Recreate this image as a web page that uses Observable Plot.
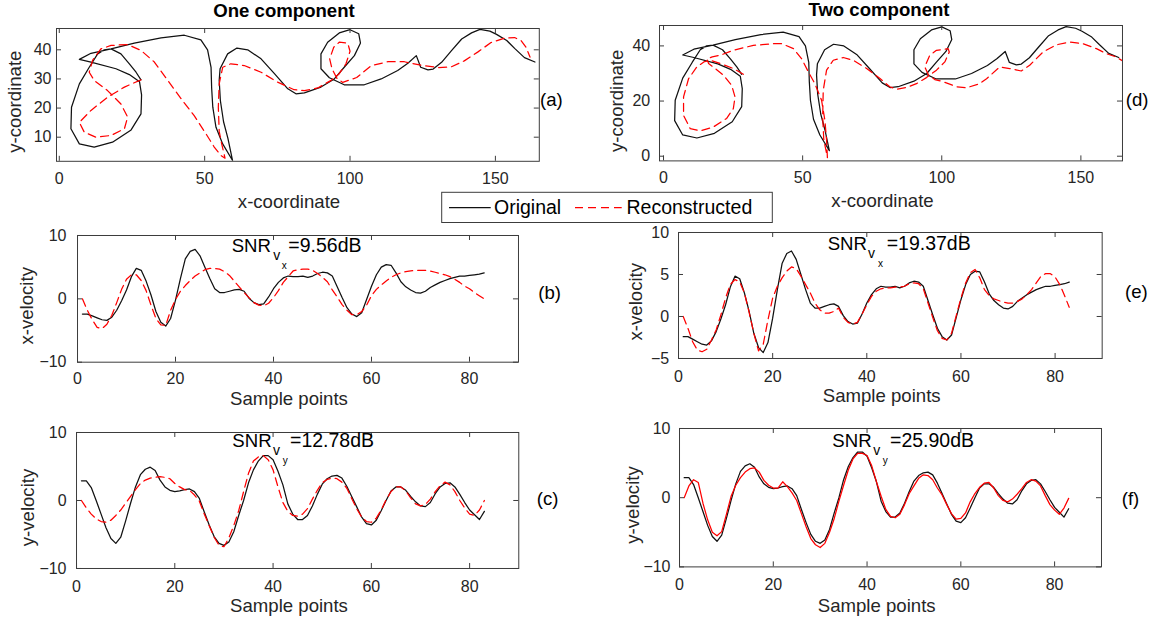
<!DOCTYPE html>
<html>
<head>
<meta charset="utf-8">
<script src="https://cdn.jsdelivr.net/npm/d3@7"></script>
<script src="https://cdn.jsdelivr.net/npm/@observablehq/plot@0.6"></script>
<style>
  html, body { margin: 0; padding: 0; background: #fff; }
  #fig { position: relative; width: 1151px; height: 623px; overflow: hidden;
         font-family: "Liberation Sans", Arial, Helvetica, sans-serif; }
  #fig svg.panel { position: absolute; }
  #overlay { position: absolute; left: 0; top: 0; pointer-events: none; }
</style>
</head>
<body>
<div id="fig"></div>
<script>
// ---------- pen trajectories (x, y coordinates) ----------
const origX = [28.1,26.4,24.1,21.2,17.8,15.5,13.2,10.3,6.9,4.2,4.0,6.9,12.0,18.3,24.7,28.1,28.3,27.6,24.1,19.5,10.9,6.9,10.9,17.8,25.8,35.0,43.0,48.7,51.0,52.2,52.4,52.8,53.9,56.2,59.6,58.0,56.5,55.4,55.0,55.3,57.9,61.1,64.8,69.4,74.0,78.6,81.4,84.3,90.0,94.6,98.0,101.5,103.6,103.0,100.0,96.3,92.3,90.0,90.0,92.9,98.0,104.9,110.7,116.4,119.9,122.8,124.3,126.8,128.6,131.5,134.9,138.4,141.8,144.7,148.1,150.4,153.9,156.7,160.0,163.6];
const origY = [29.7,32.3,35.2,38.6,40.3,40.0,38.6,34.0,28.3,20.3,12.9,7.7,6.6,8.3,12.5,18.0,24.5,29.0,31.5,33.5,35.8,36.7,38.8,40.3,42.3,44.1,45.0,43.4,40.0,34.0,27.0,20.3,13.4,7.7,2.0,9.6,15.3,22.6,29.5,33.5,38.6,40.6,40.0,36.9,31.8,26.6,24.9,25.2,27.2,30.0,34.0,38.0,42.3,45.5,46.9,45.8,42.6,38.6,33.5,30.4,28.0,28.0,30.0,32.9,35.4,38.0,34.0,33.1,33.4,35.7,39.7,43.7,45.8,47.0,46.4,45.3,43.2,40.4,37.3,35.8];

const oneX = [28.1,22.4,16.6,10.9,6.9,8.6,12.6,17.8,22.4,23.5,21.2,16.6,12.0,10.3,11.5,14.3,17.8,23.5,28.1,32.7,37.3,41.9,46.4,50.5,53.3,55.6,57.0,55.8,55.0,54.7,55.0,56.2,59.0,63.6,69.4,75.1,80.8,84.3,88.9,93.5,96.3,98.6,100.0,99.2,96.3,94.4,93.0,93.8,95.5,97.5,102.3,107.2,112.9,118.7,124.4,130.2,134.7,139.3,143.9,148.5,153.1,156.6,158.9,160.6,161.9];
const oneY = [29.7,27.2,23.7,19.2,15.1,11.7,10.0,10.6,12.9,16.9,21.4,26.0,29.5,32.3,36.5,40.3,41.5,41.8,39.8,35.8,29.5,23.2,17.4,11.1,6.6,3.7,2.8,8.0,12.0,20.3,28.3,34.0,35.2,34.6,32.3,28.9,26.3,26.0,26.9,29.5,31.8,35.2,39.5,42.3,42.6,40.9,36.9,33.5,30.2,28.8,30.5,34.5,35.9,35.9,34.7,33.9,34.1,36.2,39.2,42.5,44.0,44.2,43.1,40.8,37.5];

const twoX = [28.7,25.1,20.4,16.8,14.5,12.0,9.0,7.2,7.2,9.6,13.2,17.9,22.7,25.1,25.7,24.5,21.5,18.6,16.2,15.6,17.5,20.4,25.1,32.3,39.5,42.5,46.7,49.6,52.1,54.4,56.8,58.0,58.6,58.9,57.6,57.2,57.4,58.6,61.0,64.6,68.2,73.0,77.8,81.3,83.7,87.3,90.9,94.5,98.1,101.1,102.7,102.3,98.1,95.7,93.9,95.2,97.5,100.5,105.3,108.9,113.6,116.1,120.9,124.4,128.6,131.6,136.4,141.2,146.0,150.8,155.6,159.1,162.7,165.5];
const twoY = [29.7,31.8,33.6,34.8,34.2,32.4,28.1,21.5,14.8,10.0,9.2,10.6,13.7,17.3,21.5,25.7,29.4,31.8,33.6,35.3,36.0,36.6,38.4,40.2,40.8,40.8,39.0,35.4,30.5,26.3,20.3,13.0,5.8,-0.5,6.0,14.2,23.9,31.2,34.8,35.8,34.8,31.8,28.2,25.2,24.3,24.9,26.3,28.5,31.2,34.2,37.8,39.0,38.4,36.6,32.4,29.5,27.8,27.0,25.2,24.8,26.3,28.1,32.4,31.8,30.9,33.0,37.8,40.4,41.4,40.8,39.0,37.2,36.0,34.2];

// ---------- velocities per sample point (1..83) ----------
const vxOrig = [-2.4,-2.4,-2.7,-3.0,-3.3,-3.4,-2.9,-1.8,-0.3,1.4,3.5,4.8,4.5,2.8,0.6,-2.0,-3.7,-4.3,-3.1,-0.2,3.2,6.3,7.5,7.8,6.8,5.0,3.2,1.6,1.0,1.0,1.2,1.4,1.5,1.2,0.1,-0.6,-0.9,-0.8,0.3,1.6,2.6,3.3,3.6,3.5,3.5,3.6,3.4,3.6,4.0,4.2,4.1,3.6,1.9,0.2,-1.4,-2.4,-2.8,-2.2,-0.1,2.0,3.8,5.0,5.4,5.3,4.1,2.7,1.9,1.4,1.0,0.9,1.2,1.8,2.2,2.6,2.9,3.2,3.4,3.6,3.6,3.7,3.8,3.9,4.1];
const vxOne = [0.0,-1.8,-3.3,-4.5,-4.7,-4.0,-2.6,-0.6,1.5,3.1,3.8,3.8,2.9,1.3,-1.0,-3.1,-4.1,-4.2,-1.8,-0.1,1.2,2.1,2.9,3.6,4.1,4.6,4.8,4.8,4.7,4.3,3.7,2.8,1.9,1.0,0.2,-0.6,-1.0,-1.1,-0.7,0.2,1.3,2.6,3.5,4.4,4.6,4.7,4.7,4.5,4.0,3.4,2.7,1.4,0.3,-0.9,-1.8,-2.5,-2.5,-2.0,-1.0,0.5,1.5,2.2,2.8,3.4,3.8,4.1,4.3,4.4,4.5,4.5,4.5,4.4,4.2,4.0,3.8,3.5,3.1,2.6,2.0,1.6,1.0,0.5,0.0];
const vxTwo = [0.0,-1.4,-3.0,-4.0,-4.2,-3.9,-2.8,-1.6,0.2,2.2,3.8,4.4,4.1,2.8,0.5,-2.0,-4.1,-3.3,-0.4,2.2,3.6,4.6,5.4,5.9,5.7,4.8,3.8,2.8,1.6,0.8,0.4,0.4,0.6,1.0,-0.1,-0.7,-0.9,-0.7,0.3,1.4,2.4,3.0,3.3,3.4,3.4,3.5,3.5,3.6,3.9,4.0,3.9,3.3,1.6,-0.1,-1.7,-2.6,-2.8,-2.0,0.1,2.2,4.0,5.2,5.6,4.6,3.2,2.5,2.1,1.9,1.7,1.6,1.6,1.8,2.1,2.6,3.2,4.0,4.8,5.1,5.1,4.7,3.8,2.5,1.1];

const vyOrig = [2.9,2.9,1.9,0.0,-2.0,-4.0,-5.6,-6.3,-5.4,-3.0,-0.4,2.0,3.8,4.6,4.9,4.4,3.0,2.0,1.5,1.3,1.4,1.6,1.7,1.3,0.3,-1.7,-3.6,-5.3,-6.3,-6.6,-6.1,-4.6,-2.2,0.0,2.6,4.5,5.8,6.6,6.6,6.0,4.3,2.3,-0.5,-2.0,-2.8,-2.8,-2.2,-0.8,0.9,2.4,3.2,3.6,3.7,3.3,2.1,0.6,-0.9,-2.4,-3.4,-3.6,-2.9,-1.5,0.0,1.4,2.0,2.0,1.5,0.6,-0.2,-0.8,-0.9,-0.3,1.0,2.0,2.5,2.6,2.0,0.9,-0.3,-1.4,-2.1,-2.8,-1.6];
const vyOne = [0.0,-1.1,-2.0,-2.7,-3.1,-3.2,-2.9,-2.2,-1.4,-0.4,0.6,1.6,2.5,3.0,3.3,3.4,3.5,3.4,3.2,2.5,2.0,1.6,1.5,0.8,-0.1,-2.0,-3.7,-5.4,-6.6,-6.8,-5.5,-3.7,-1.5,1.3,4.0,5.8,6.4,6.6,6.0,4.5,2.0,-0.3,-1.6,-2.2,-2.3,-2.0,-1.2,0.2,1.5,2.6,3.1,3.3,3.2,2.7,1.8,0.3,-1.2,-2.4,-3.1,-3.2,-2.6,-1.4,0.1,1.3,2.0,2.0,1.4,0.4,-0.5,-0.8,-0.6,0.2,1.3,2.2,2.7,2.3,1.3,0.0,-1.1,-2.0,-2.2,-1.4,0.0];
const vyTwo = [0.0,1.7,2.6,2.2,-0.8,-3.2,-5.0,-5.5,-4.9,-2.4,0.2,1.8,2.9,3.7,4.2,4.3,3.7,2.5,1.8,1.4,1.4,2.3,1.6,0.7,-0.4,-2.3,-4.2,-5.9,-6.8,-7.2,-6.6,-5.0,-3.0,-0.5,1.8,4.0,5.6,6.4,6.4,6.1,4.6,2.3,0.2,-1.7,-2.7,-2.9,-2.4,-1.0,0.6,1.7,2.8,3.3,3.2,2.6,1.4,0.4,-1.0,-2.3,-3.1,-3.0,-2.2,-0.6,0.6,1.5,2.1,2.2,1.4,0.3,-0.4,-0.6,-0.2,0.5,1.3,2.2,2.6,2.4,1.7,0.3,-1.0,-1.8,-2.4,-1.5,-0.1];

// ---------- tick values ----------
const coordXTicks = [0, 50, 100, 150];
const coordYTicksA = [10, 20, 30, 40];
const coordYTicksD = [0, 20, 40];
const sampleTicks = [0, 20, 40, 60, 80];
const vel10Ticks = [-10, 0, 10];
const vel5Ticks = [-5, 0, 5, 10];

// ---------- styling ----------
const FONT = '"Liberation Sans", Arial, Helvetica, sans-serif';
const AXIS = "#3c3c3c";
const TEXT = "#262626";
const BLACK = "#111";
const RED = "#ff0000";
const DASH = "8,5";
const TICK = 5;
const LABEL = 18.6;
const ML = 50, MR = 6, MT = 6, MB = 30;

const fig = document.getElementById("fig");

function trajectory(xs, ys, stroke, dash) {
  return Plot.line(d3.range(xs.length), {
    x: i => xs[i], y: i => ys[i], stroke, strokeWidth: 1.25,
    strokeDasharray: dash, clip: true, curve: "linear"
  });
}
function velocity(vs, stroke, dash) {
  return Plot.line(vs, {
    x: (d, i) => i + 1, y: d => d, stroke, strokeWidth: 1.25,
    strokeDasharray: dash, clip: true
  });
}

function panel(box, xDomain, yDomain, xTicks, yTicks, lines, gapX, gapY) {
  const w = box.r - box.l, h = box.b - box.t;
  const chart = Plot.plot({
    width: w + ML + MR, height: h + MT + MB,
    marginLeft: ML, marginRight: MR, marginTop: MT, marginBottom: MB,
    x: {domain: xDomain}, y: {domain: yDomain},
    style: {fontFamily: FONT, fontSize: "16px", color: TEXT, background: "transparent", overflow: "visible"},
    marks: [
      ...lines,
      Plot.frame({stroke: AXIS, strokeWidth: 1}),
      Plot.tickX(xTicks, {x: d => d, insetTop: h - TICK, stroke: AXIS}),
      Plot.tickX(xTicks, {x: d => d, insetBottom: h - TICK, stroke: AXIS}),
      Plot.tickY(yTicks, {y: d => d, insetRight: w - TICK, stroke: AXIS}),
      Plot.tickY(yTicks, {y: d => d, insetLeft: w - TICK, stroke: AXIS}),
      Plot.axisX(xTicks, {tickSize: 0, tickPadding: gapX, label: null, fill: TEXT}),
      Plot.axisY(yTicks, {tickSize: 0, tickPadding: gapY, label: null, fill: TEXT})
    ]
  });
  chart.classList.add("panel");
  chart.style.left = (box.l - ML) + "px";
  chart.style.top = (box.t - MT) + "px";
  fig.appendChild(chart);
}

// (a) one-component trajectory
panel({l: 55.5, t: 28, r: 538.3, b: 160.8}, [-0.96, 165.1], [1.73, 47.31], coordXTicks, coordYTicksA,
  [trajectory(origX, origY, BLACK, null), trajectory(oneX, oneY, RED, DASH)], 11, 5);
// (d) two-component trajectory
panel({l: 659.3, t: 25.3, r: 1122.3, b: 160.7}, [-1.44, 164.95], [-1.7, 47.4], coordXTicks, coordYTicksD,
  [trajectory(origX, origY, BLACK, null), trajectory(twoX, twoY, RED, DASH)], 11, 9.3);
// (b) x-velocity, one component
panel({l: 77, t: 235, r: 518, b: 361.7}, [0, 90], [-10, 10], sampleTicks, vel10Ticks,
  [velocity(vxOrig, BLACK, null), velocity(vxOne, RED, DASH)], 10, 11);
// (e) x-velocity, two components
panel({l: 677.7, t: 232.3, r: 1101.4, b: 358.3}, [0, 90], [-5, 10], sampleTicks, vel5Ticks,
  [velocity(vxOrig, BLACK, null), velocity(vxTwo, RED, DASH)], 11.7, 9.4);
// (c) y-velocity, one component
panel({l: 76, t: 432.3, r: 518.3, b: 568.3}, [0, 90], [-10, 10], sampleTicks, vel10Ticks,
  [velocity(vyOrig, BLACK, null), velocity(vyOne, RED, DASH)], 11.7, 10);
// (f) y-velocity, two components
panel({l: 679, t: 428.3, r: 1101, b: 566.7}, [0, 90], [-10, 10], sampleTicks, vel10Ticks,
  [velocity(vyOrig, BLACK, null), velocity(vyTwo, RED, null)], 11.3, 9);

// ---------- titles, axis labels, panel tags, SNR notes, legend ----------
const svg = d3.create("svg").attr("id", "overlay").attr("width", 1151).attr("height", 623)
  .style("font-family", FONT);

function label(str, x, y, opts = {}) {
  const t = svg.append("text").attr("x", x).attr("y", y).text(str)
    .attr("font-size", opts.size || LABEL).attr("fill", opts.fill || TEXT)
    .attr("text-anchor", opts.anchor || "start");
  if (opts.bold) t.attr("font-weight", "bold");
  if (opts.rotate) t.attr("transform", `rotate(-90 ${x} ${y})`);
  return t;
}

label("One component", 284, 17, {anchor: "middle", bold: true, fill: "#000"});
label("Two component", 879, 15.5, {anchor: "middle", bold: true, fill: "#000"});

label("x-coordinate", 289, 207.5, {anchor: "middle"});
label("x-coordinate", 882.5, 207, {anchor: "middle"});
label("y-coordinate", 21.5, 101.7, {anchor: "middle", rotate: true});
label("y-coordinate", 623.5, 100.8, {anchor: "middle", rotate: true});

label("x-velocity", 33.5, 305.8, {anchor: "middle", rotate: true});
label("x-velocity", 642.5, 301.7, {anchor: "middle", rotate: true});
label("y-velocity", 33.5, 507.5, {anchor: "middle", rotate: true});
label("y-velocity", 638.5, 505, {anchor: "middle", rotate: true});

label("Sample points", 289, 404.5, {anchor: "middle"});
label("Sample points", 881.7, 401.5, {anchor: "middle"});
label("Sample points", 289, 611.5, {anchor: "middle"});
label("Sample points", 876.7, 611.5, {anchor: "middle"});

label("(a)", 540, 106, {fill: "#000"});
label("(d)", 1125.7, 106, {fill: "#000"});
label("(b)", 538.3, 299, {fill: "#000"});
label("(e)", 1125, 298, {fill: "#000"});
label("(c)", 536.7, 505, {fill: "#000"});
label("(f)", 1121.7, 505, {fill: "#000"});

// SNR with nested subscript: SNR_{v_x}
function snr(x, base, sub, value, xv, xs, xe) {
  label("SNR", x, base, {fill: "#000"});
  label("v", xv, base + 8, {size: 14, fill: "#000"});
  label(sub, xs, base + 17, {size: 10, fill: "#000"});
  label(value, xe, base, {size: 19.5, fill: "#000"});
}
snr(231.7, 251.7, "x", "=9.56dB", 273.3, 281.7, 288.3);
snr(827.7, 250, "x", "=19.37dB", 868, 878, 886.7);
snr(232.3, 447.3, "y", "=12.78dB", 273, 282.7, 290);
snr(832.3, 446.7, "y", "=25.90dB", 873.3, 882.7, 890);

// legend
svg.append("rect").attr("x", 441.7).attr("y", 192.3).attr("width", 330.6).attr("height", 30.2)
  .attr("fill", "#fff").attr("stroke", AXIS).attr("stroke-width", 1);
svg.append("line").attr("x1", 449).attr("x2", 490.7).attr("y1", 207.5).attr("y2", 207.5)
  .attr("stroke", BLACK).attr("stroke-width", 1.25);
label("Original", 494, 214, {size: 19.5, fill: "#000"});
svg.append("line").attr("x1", 575).attr("x2", 621.7).attr("y1", 207.5).attr("y2", 207.5)
  .attr("stroke", RED).attr("stroke-width", 1.25).attr("stroke-dasharray", DASH);
label("Reconstructed", 626.5, 214, {size: 19.5, fill: "#000"});

fig.appendChild(svg.node());
</script>
</body>
</html>
